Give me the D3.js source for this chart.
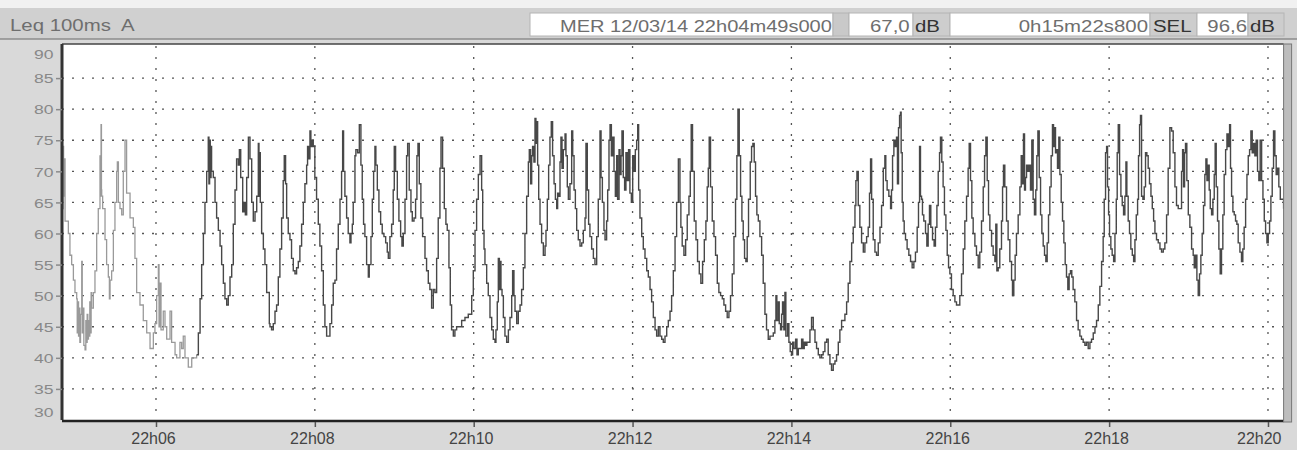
<!DOCTYPE html>
<meta charset="utf-8">

<!-- Load d3.js -->
<script src="https://d3js.org/d3.v7.min.js"></script>

<style>
    body {
        margin: 0;
        background-color: #d9d9d9;
    }

    svg {
        display: block;
    }

    text {
        font-family: "Liberation Sans", Arial, sans-serif;
        white-space: pre;
    }
</style>

<body>
<div id="my_dataviz"></div>

<script>

    // header values
    var headerLabel = "Leq 100ms  A";
    var startText = "MER 12/03/14 22h04m49s000";
    var levelText = "67,0";
    var durationText = "0h15m22s800";
    var selText = "96,6";

    // start of recording and its length in seconds
    var startTime = Date.UTC(2014, 2, 12, 22, 4, 49);
    var durationSec = 922.8;

    var yTicks = [30, 35, 40, 45, 50, 55, 60, 65, 70, 75, 80, 85, 90];
    var gridLevels = [35, 40, 45, 50, 55, 60, 65, 70, 75, 80, 85];

    // [seconds since start, dB] - first part is drawn lighter
    var lightTrace = [[0, 75], [0.4, 64], [0.8, 74], [1.2, 66], [1.6, 72], [2.3, 62], [4.8, 60], [6, 56.5], [7.3, 55], [8.6, 52.5],
        [9.8, 50.5], [11.1, 49.5], [11.5, 44], [12, 49], [12.5, 43.5], [13, 48], [13.5, 42.5], [14, 47], [14.9, 55.5], [15.3, 44],
        [16, 48], [16.5, 42], [17.4, 41.3], [18, 46], [18.5, 42.5], [19, 47], [19.5, 43], [20, 46], [20.5, 43.5], [21, 49], [21.5, 44],
        [22, 50.5], [22.4, 48], [23.7, 50.5], [24.9, 54], [26.2, 60], [27.4, 64], [28.7, 72.5], [29, 66], [29.5, 77.5], [29.8, 67],
        [30, 66], [30.7, 64], [32.5, 59], [33.7, 55], [35, 53], [35.8, 49.5], [36.3, 52.5], [37.5, 54], [38.8, 60.5], [40, 65],
        [41.3, 70], [41.8, 71.5], [42.6, 65], [43.8, 64], [45.1, 63], [46.3, 70], [47.6, 75], [48.8, 66.5], [51.4, 62.5], [53.9, 61],
        [55.1, 56], [56.4, 50.5], [58.9, 48.5], [61.4, 46], [64, 44], [66.5, 41.5], [69, 44], [70.2, 45.5], [71.5, 50], [72.8, 55],
        [73.3, 45], [74, 52], [74.8, 44.5], [76.5, 47.5], [77.8, 45], [79.1, 43], [81.6, 47.5], [82.8, 42.5], [85.4, 40.5], [86.6, 40],
        [89.1, 42.5], [90.4, 41.5], [91.6, 43.5], [92.9, 40], [95.4, 38.5], [98, 40], [100.5, 40], [101.7, 40.5]];

    // 22h06 - 22h10
    var traceA = [[101.7, 40.5], [103, 44], [104.3, 49.5], [105.5, 55], [106.8, 60], [108, 65], [109.3, 70], [110.5, 75.5], [111, 68],
        [111.5, 75], [112, 69], [112.6, 74], [113, 70], [114.3, 69], [115.6, 65], [116.8, 62.5], [118.1, 60.5], [119.4, 58], [120.6, 55],
        [121.9, 52], [123.1, 49.5], [124.4, 48.5], [125.6, 50], [126.9, 53], [128.2, 55], [129.4, 61.5], [130.7, 67], [131.9, 72],
        [133.2, 71], [134, 73.5], [135, 69], [136.5, 63.5], [137.5, 65], [138.5, 63], [139.5, 69], [140.8, 75.5], [142, 72], [143.3, 65],
        [144.5, 62], [145.8, 63.5], [147.1, 66], [148.3, 74.5], [148.8, 66], [149.3, 73], [149.8, 65], [150.8, 60], [152.1, 57.5],
        [153.3, 55], [154.6, 50.5], [156.6, 45.5], [157.1, 45], [158.3, 44.5], [159.6, 45.5], [160.9, 47.5], [162.1, 48.5], [163.4, 53],
        [164.6, 57.5], [165.9, 62.5], [167.1, 68.5], [167.9, 72.5], [168.9, 68], [169.7, 62.5], [170.9, 60], [172.2, 59], [173.4, 56],
        [174.7, 54], [176, 53.5], [177.2, 54.5], [178.5, 55.5], [179.7, 58], [181, 61.5], [182.3, 65], [183.5, 68], [184.8, 71],
        [185.5, 74], [186.5, 72], [187.3, 76.5], [188, 74], [189, 75], [189.8, 74], [191, 69], [192.3, 65.5], [193.6, 61.5], [194.8, 58],
        [196.1, 54], [197.4, 48.5], [198.6, 45], [199.9, 43.5], [201.1, 43.5], [202.4, 45.5], [203.7, 48.5], [204.9, 52], [206.2, 52.5],
        [207.4, 57.5], [208.7, 61.5], [210, 65.5], [211.2, 70], [212, 76.5], [212.7, 70], [213.7, 66], [215, 62.5], [216.2, 60],
        [217.5, 58.5], [218.3, 60], [219.3, 61.5], [220, 65], [221.3, 72.5], [222, 73.5], [223.3, 73], [224.6, 77.5], [225.8, 71],
        [226.8, 65.5], [227.8, 61.5], [228.8, 59.5], [230.1, 55], [231.4, 53], [232.1, 55], [233.4, 59.5], [234.4, 65.5], [235.4, 70],
        [236.4, 74], [237.1, 71], [238.2, 67], [239.4, 63.5], [240.7, 61.5], [241.9, 60], [243.2, 59.5], [244.5, 58.5], [245.7, 57],
        [246.5, 56], [247.7, 59.5], [249, 61.5], [250.2, 67], [251, 74], [252, 70], [253.3, 65.5], [254.5, 62], [255.8, 59.5],
        [256.8, 58], [257.8, 60], [259.1, 65.5], [260.3, 72.5], [261.1, 74.5], [262.3, 67], [263.6, 63.5], [264.6, 62], [265.9, 62.5],
        [267.1, 65.5], [268.1, 72.5], [268.9, 74.5], [269.9, 68], [271.1, 62.5], [272.4, 59.5], [274.2, 56], [275.4, 54], [276.7, 52],
        [277.9, 51], [279.2, 48], [280.5, 51], [281.7, 50.5], [283, 56], [284.2, 62.5], [285.5, 70.5], [286.3, 75.5], [287.5, 70.5],
        [288.8, 64], [290, 61.5], [291, 60.5], [292.3, 54.5], [293.3, 48.5], [294.3, 44.5], [295.6, 43.5], [296.8, 44.5], [298.1, 45],
        [301.9, 46], [304.4, 46.5], [306.9, 47]];

    // 22h10 - 22h14
    var traceB = [[308.2, 47], [309.5, 50], [310.7, 54], [312, 60.5], [313.2, 65.5], [314.5, 69.5], [315.8, 72.5], [317, 67],
        [317.8, 60.5], [318.8, 57.5], [319.5, 55], [320.8, 52], [322, 50], [323.3, 46.5], [324.6, 44.5], [325.8, 43], [327.1, 42.5],
        [327.8, 44.5], [328.8, 49], [329.6, 56], [330.4, 51], [330.9, 55.5], [331.6, 51], [332.4, 50], [333.4, 46.5], [334.6, 43.5],
        [335.9, 42.5], [337.2, 44.5], [338.4, 46.5], [339.7, 50], [340.4, 54], [341.4, 50], [342.2, 47.5], [343.5, 45.5], [344.7, 47.5],
        [346, 48.5], [347.2, 51], [348.5, 54.5], [349.7, 60], [351, 66], [352.3, 71.5], [353, 73.5], [354, 68], [354.8, 72.5],
        [355.5, 74], [356.5, 71.5], [357.3, 78.5], [358, 74.5], [358.6, 78], [359.3, 71], [360.1, 65.5], [361.1, 61.5], [362.3, 58.5],
        [363.6, 56.5], [364.9, 58], [365.6, 60.5], [366.6, 65.5], [367.6, 71], [368.6, 75.5], [369.6, 78], [370.6, 72.5], [371.7, 68],
        [372.7, 65.5], [373.7, 64], [374.4, 66.5], [375.2, 66], [376.2, 71.5], [376.9, 75.5], [377.7, 70.5], [378.7, 73.5], [380, 76],
        [380.7, 72.5], [381.7, 67.5], [382.5, 65.5], [383.7, 68], [385, 76.5], [385.8, 72.5], [386.8, 67], [387.8, 64], [388.8, 60.5],
        [390, 59], [391.3, 58], [392.6, 58.5], [393.8, 60.5], [395.1, 62.5], [395.8, 74.5], [396.8, 67], [397.8, 61.5], [398.8, 59.5],
        [400.1, 57.5], [401.4, 56], [402.6, 55], [403.9, 59.5], [405.1, 65.5], [406.4, 76.5], [407.2, 69], [408.2, 65], [409.4, 60.5],
        [410.2, 59], [411.4, 62], [412.2, 67], [413.2, 75], [414, 77.5], [415, 72.5], [416, 75.5], [417, 70], [418, 66], [419, 72.5],
        [419.7, 65.5], [420.8, 73.5], [421.5, 69.5], [422.3, 72.5], [423, 76.5], [424, 69], [425, 67], [426, 73], [427, 68.5],
        [428, 73.5], [429, 66.5], [430.1, 65], [431.1, 72.5], [432.1, 70], [433.1, 73.5], [434.1, 75], [434.9, 77.5], [435.6, 67],
        [436.6, 62.5], [437.9, 59.5], [439.1, 57.5], [440.4, 56], [441.7, 54], [442.9, 53], [444.2, 51], [445.4, 49], [446.7, 46.5],
        [448, 44.5], [449.2, 43.5], [450.5, 45], [451.7, 43.5], [453, 43], [454.2, 42.5], [455.5, 43.5], [456.8, 45], [458, 46],
        [459.3, 47.5], [460.5, 50], [461.8, 54], [463.1, 59.5], [464.3, 65], [465.6, 72], [466.8, 65], [467.5, 61], [468.5, 58],
        [469.8, 56.5], [471.1, 59], [472.3, 63], [473.6, 66], [474.6, 70], [475.3, 77.5], [476.3, 70], [477.6, 62], [478.9, 59],
        [480.1, 55.5], [481.4, 53.5], [482.6, 52], [483.9, 55.5], [485.2, 59], [486.4, 62], [487.4, 67.5], [488.2, 70.5], [488.9, 75.5],
        [489.9, 67.5], [491.2, 62], [492.5, 59.5], [493.7, 56.5], [495, 52], [496.2, 50.5], [497.5, 50], [498.8, 49.5], [500, 48.5],
        [501.3, 47.5], [502.5, 46.5], [503.8, 47.5], [505, 50], [506.3, 53.5], [507.6, 59.5], [508.8, 65.5], [509.8, 72.5], [510.6, 80],
        [511.6, 72.5], [512.6, 66], [513.6, 62], [514.6, 59], [515.6, 56], [516.6, 55.5], [517.6, 59.5], [518.6, 65.5], [519.9, 71.5],
        [520.9, 74], [521.9, 74.5], [522.9, 71.5], [523.9, 66], [524.9, 63], [526, 62], [527.2, 59.5], [528.5, 56.5], [529.7, 52],
        [531, 47], [532.2, 44.5], [533.5, 43], [534.8, 43.5], [536, 43.5], [537.3, 44], [538.5, 46], [539.3, 50], [540, 46],
        [541.1, 49], [541.8, 45.5], [542.8, 44.5], [543.6, 47], [544.3, 49], [545.3, 44.5], [546.1, 50.5], [546.8, 43.5],
        [548.1, 45.5], [549.1, 42.5], [550.1, 41], [551.1, 40.5], [551.9, 42.5], [552.9, 41.5], [554.2, 43], [555.2, 40.5],
        [556.2, 41.5], [557.4, 41.5], [558.7, 43], [559.7, 41.5], [560.7, 42.5], [561.7, 42], [562.7, 42.5], [563.7, 42.5]];

    // 22h14 - 22h17
    var traceC = [[563.7, 42.5], [565, 44.5], [566.2, 46.5], [567.5, 44.5], [568.8, 42.5], [570, 41.5], [571.3, 40.5], [572.5, 40],
        [573.8, 40.5], [575, 41], [576.3, 42.5], [577.6, 43], [578.8, 40.5], [580.1, 39], [581.3, 38], [582.6, 39], [583.9, 39.5],
        [585.1, 40.5], [586.4, 42.5], [587.6, 44.5], [588.9, 46], [590.2, 46], [591.4, 47], [592.7, 49], [593.9, 52], [595.2, 55.5],
        [596.5, 58.5], [597.7, 61], [599, 64.5], [599.7, 68.5], [600.5, 70], [601.5, 64.5], [602.7, 61], [604, 58.5], [605.3, 57],
        [606.5, 58.5], [607.8, 59.5], [609, 61], [610, 66.5], [610.8, 72], [611.6, 65.5], [612.8, 59], [614.1, 57], [615.3, 56.5],
        [616.6, 58.5], [617.9, 61], [619.1, 64.5], [620.4, 70.5], [621.6, 72.5], [622.3, 68.5], [623.3, 67], [624.6, 66], [625.9, 64],
        [626.6, 67], [627.4, 72.5], [628.4, 75], [629.4, 74], [630.4, 75.5], [631.1, 68], [631.9, 77], [632.7, 79], [633.4, 79.5],
        [633.9, 73], [634.7, 65], [635.4, 62], [636.2, 60], [637.2, 59], [638.4, 57.5], [639.7, 56.5], [641, 55.5], [642.2, 54.5],
        [643.5, 55.5], [644.7, 57], [646, 61], [647, 65], [647.8, 74], [648.5, 66], [649.3, 65.5], [650, 63], [651, 62], [652.3, 60],
        [653.3, 58], [654.3, 61.5], [655.3, 64.5], [656.3, 61], [657.6, 59], [658.8, 58], [659.8, 61], [660.9, 64.5], [661.9, 70],
        [662.9, 73], [663.6, 75.5], [664.6, 71.5], [665.6, 67.5], [666.6, 63], [667.7, 60.5], [668.7, 56.5], [669.7, 54.5],
        [670.7, 53.5], [671.9, 51], [673.2, 50], [674.5, 49], [675.7, 48.5], [677, 48.5], [678.2, 50], [679.5, 53.5], [680.8, 57.5],
        [682, 62], [683.3, 66], [684.5, 70.5], [685.3, 74.5], [686.3, 68.5], [687.3, 62.5], [688.3, 60], [689.6, 58], [690.8, 56.5],
        [692.1, 54.5], [693.3, 57], [694.6, 62], [695.9, 67.5], [696.9, 72.5], [697.9, 75.5], [698.9, 68.5], [699.9, 63], [700.9, 60.5],
        [702.2, 58], [703.4, 56.5], [704.7, 55.5], [705.4, 61.5], [706.2, 54], [707.2, 54.5], [708.4, 57.5], [709.7, 62], [710.5, 67.5],
        [711.2, 71], [712.2, 67.5], [713.5, 62], [714.7, 59], [716, 55.5], [717.3, 52.5], [718, 50], [719, 52.5], [720, 56.5]];

    // 22h17 - end
    var traceD = [[720, 56.5], [721, 60], [722.3, 63], [723.6, 67.5], [724.6, 72.5], [725.6, 68], [726.3, 76], [727.1, 67], [727.8, 69],
        [728.6, 71], [729.6, 70], [730.6, 71], [731.6, 67], [732.6, 75], [733.6, 65.5], [734.6, 63], [735.6, 67], [736.4, 72.5],
        [737.2, 76.5], [738.2, 69], [739.2, 63], [740.2, 60], [741.2, 58], [742.2, 56.5], [743.2, 55.5], [744.2, 58.5], [745.2, 63],
        [746.2, 67.5], [747.2, 72.5], [748.2, 77.5], [749, 74], [749.7, 77], [750.5, 73], [751.3, 73.5], [752, 70.5], [753, 75.5],
        [753.8, 69.5], [754.8, 65], [755.8, 62], [756.8, 58.5], [757.8, 55], [758.8, 53], [759.8, 51], [760.8, 53.5], [761.8, 54],
        [762.8, 53], [763.8, 51], [765.1, 49], [766.4, 46], [767.6, 44.5], [768.9, 43.5], [770.1, 43], [771.4, 42.5], [772.7, 42],
        [773.9, 42.5], [775.2, 41.5], [776.5, 42.5], [777.7, 43], [779, 44], [780.3, 45], [781.5, 46], [782.8, 48.5], [784, 51.5],
        [785.3, 55.5], [786.5, 59.5], [787.3, 65.5], [788.3, 73], [789.1, 74], [789.8, 67.5], [790.6, 63], [791.3, 59.5], [792.3, 57.5],
        [793.3, 56.5], [794.4, 55.5], [795.4, 60], [796.4, 65.5], [797.1, 73], [797.9, 77.5], [798.9, 69.5], [799.9, 66], [800.9, 64.5],
        [801.9, 63], [802.9, 66], [803.7, 71.5], [804.4, 66], [805.4, 62], [806.4, 60], [807.4, 57.5], [808.5, 56.5], [809.5, 55.5],
        [810.5, 59], [811.5, 63], [812.5, 65.5], [813.2, 72.5], [814, 77.5], [814.7, 79], [815.5, 66], [816.5, 65.5], [817.5, 67.5],
        [818.5, 73], [819.5, 72.5], [820.5, 70.5], [821.5, 68], [822.6, 66], [823.6, 64], [824.6, 62], [825.6, 60], [826.8, 59],
        [828.1, 58.5], [829.4, 57.5], [830.6, 57], [831.9, 57.5], [833.1, 58.5], [834.4, 63], [835.6, 70.5], [836.9, 77], [838.2, 76.5],
        [839.4, 73], [840.7, 67.5], [841.9, 64.5], [843.2, 64], [844.5, 64], [845.7, 70], [846.5, 73.5], [847.2, 67.5], [848, 73],
        [848.7, 74.5], [849.7, 68.5], [850.8, 63], [852, 61], [853.3, 57.5], [854.5, 56.5], [855.3, 54.5], [856.3, 56.5], [857.3, 52.5],
        [858.3, 50], [859.3, 53.5], [860.3, 56.5], [861.3, 60], [862.3, 64.5], [863.3, 69.5], [864.1, 72], [864.9, 68.5], [865.9, 71],
        [866.6, 67], [867.4, 64], [868.4, 63], [869.4, 65.5], [870.4, 69.5], [871.1, 74.5], [871.9, 67.5], [872.9, 62], [873.9, 57.5],
        [874.9, 53.5], [875.9, 57.5], [876.9, 63], [877.9, 69.5], [879, 73.5], [880, 76], [881, 74], [882, 77.5], [882.7, 70.5],
        [883.5, 66], [884.5, 63.5], [885.5, 63], [886.5, 62], [887.5, 61.5], [888.5, 58.5], [889.8, 57], [891, 55.5], [892, 57.5],
        [893, 61], [894.1, 65.5], [895.1, 69.5], [896.1, 72.5], [897.1, 73.5], [898.1, 76.5], [899.1, 73], [900.1, 74.5], [901.1, 72.5],
        [902.1, 75], [903.1, 70], [904.1, 68.5], [905.1, 75], [906.2, 68.5], [907.2, 65.5], [908.2, 62], [909.2, 60], [910.2, 58.5],
        [911.2, 60], [912.2, 62], [913.2, 66], [914.2, 70.5], [915.2, 76.5], [916.2, 72.5], [917.2, 69.5], [918.2, 70.5], [919.2, 67.5],
        [920.3, 65.5], [922.8, 64]];

    var darkTrace = traceA.concat(traceB, traceC, traceD);

    var width = 1297, height = 450;
    var plotLeft = 62, plotRight = 1283.6, plotTop = 44, plotBottom = 420;

    var x = d3.scaleUtc()
        .domain([new Date(startTime), new Date(startTime + durationSec * 1000)])
        .range([plotLeft, plotRight]);

    var y = d3.scaleLinear()
        .domain([30, 90])
        .range([plotBottom, plotTop + 3]);

    var svg = d3.select("#my_dataviz").append("svg")
        .attr("width", width)
        .attr("height", height);

    // page + header band
    svg.append("rect").attr("width", width).attr("height", height).attr("fill", "#d9d9d9");
    svg.append("rect").attr("width", width).attr("height", 8).attr("fill", "#f1f1f1");
    svg.append("rect").attr("y", 8).attr("width", width).attr("height", 31).attr("fill", "#d0d0d0");
    svg.append("line").attr("x1", 0).attr("x2", width).attr("y1", 39).attr("y2", 39)
        .attr("stroke", "#8c8c8c").attr("stroke-width", 1.5);

    // stretched text helper (the scan is wider than the font)
    function stretchText(str, px, py, anchor, size, color, sx) {
        svg.append("text")
            .attr("transform", "translate(" + px + "," + py + ") scale(" + sx + ",1)")
            .attr("text-anchor", anchor)
            .style("font-size", size + "px")
            .attr("fill", color)
            .text(str);
    }

    // header boxes: white value cells and gray unit cells
    var cells = [
        [530, 833, "#ffffff"], [833, 849, "#c9c9c9"], [849, 913, "#ffffff"], [913, 950, "#cdcdcd"],
        [950, 1150, "#ffffff"], [1150, 1197, "#cdcdcd"], [1197, 1248, "#ffffff"], [1248, 1284, "#cdcdcd"]
    ];
    cells.forEach(function (c) {
        svg.append("rect")
            .attr("x", c[0]).attr("y", 13).attr("width", c[1] - c[0]).attr("height", 23)
            .attr("fill", c[2]).attr("stroke", "#b4b4b4").attr("stroke-width", 1);
    });

    stretchText(headerLabel, 10, 31, "start", 17, "#6e6e6e", 1.2);
    stretchText(startText, 560, 32, "start", 17, "#6e6e6e", 1.18);
    stretchText(levelText, 870, 32, "start", 17, "#6e6e6e", 1.2);
    stretchText("dB", 915, 32, "start", 17, "#333", 1.2);
    stretchText(durationText, 1148, 32, "end", 17, "#6e6e6e", 1.2);
    stretchText("SEL", 1153, 32, "start", 17, "#333", 1.2);
    stretchText(selText, 1247, 32, "end", 17, "#6e6e6e", 1.2);
    stretchText("dB", 1250, 32, "start", 17, "#333", 1.2);

    // plot area
    svg.append("rect")
        .attr("x", plotLeft).attr("y", plotTop)
        .attr("width", plotRight - plotLeft).attr("height", plotBottom - plotTop)
        .attr("fill", "#ffffff");

    // dotted grid
    svg.append("g").selectAll("line")
        .data(gridLevels)
        .enter().append("line")
        .attr("x1", plotLeft).attr("x2", plotRight)
        .attr("y1", function (d) { return y(d); })
        .attr("y2", function (d) { return y(d); })
        .attr("stroke", "#555").attr("stroke-width", 1.3)
        .attr("stroke-dasharray", "2,8");

    var xTicks = x.ticks(d3.utcMinute.every(2));

    svg.append("g").selectAll("line")
        .data(xTicks)
        .enter().append("line")
        .attr("x1", function (d) { return x(d); })
        .attr("x2", function (d) { return x(d); })
        .attr("y1", plotTop + 2).attr("y2", plotBottom)
        .attr("stroke", "#555").attr("stroke-width", 1.3)
        .attr("stroke-dasharray", "2,9");

    // traces
    var line = d3.line()
        .x(function (d) { return x(new Date(startTime + d[0] * 1000)); })
        .y(function (d) { return y(d[1]); })
        .curve(d3.curveStepAfter);

    svg.append("path")
        .datum(lightTrace)
        .attr("d", line)
        .attr("fill", "none")
        .attr("stroke", "#9a9a9a")
        .attr("stroke-width", 1.3);

    svg.append("path")
        .datum(darkTrace)
        .attr("d", line)
        .attr("fill", "none")
        .attr("stroke", "#484848")
        .attr("stroke-width", 1.4);

    // frame
    svg.append("line").attr("x1", plotLeft).attr("x2", plotRight).attr("y1", plotTop).attr("y2", plotTop)
        .attr("stroke", "#444").attr("stroke-width", 1.5);
    svg.append("line").attr("x1", plotLeft).attr("x2", plotLeft).attr("y1", plotTop).attr("y2", plotBottom)
        .attr("stroke", "#333").attr("stroke-width", 3);
    svg.append("line").attr("x1", plotLeft).attr("x2", plotRight).attr("y1", plotBottom + 1).attr("y2", plotBottom + 1)
        .attr("stroke", "#222").attr("stroke-width", 2.5);
    svg.append("rect").attr("x", plotRight).attr("y", plotTop).attr("width", 8).attr("height", plotBottom - plotTop + 2)
        .attr("fill", "#bdbdbd").attr("stroke", "#777").attr("stroke-width", 1);

    // y axis
    var yAxis = svg.append("g")
        .attr("transform", "translate(" + plotLeft + ",0)")
        .call(d3.axisLeft(y).tickValues(yTicks).tickSize(6).tickPadding(3));

    yAxis.select(".domain").remove();
    yAxis.selectAll(".tick line").attr("stroke", "#8a8a8a").attr("stroke-width", 1.5)
        .style("display", function (d) { return (d === 30 || d === 90) ? "none" : null; });
    yAxis.selectAll(".tick text")
        .attr("fill", "#888")
        .style("font-size", "13.5px")
        .style("font-family", "'Liberation Sans', Arial, sans-serif")
        .attr("x", -6.5)
        .attr("transform", "scale(1.3,1)")
        .attr("dy", function (d) { return d === 90 ? "0.85em" : (d === 30 ? "-0.25em" : "0.35em"); });

    // x axis
    var xAxis = svg.append("g")
        .attr("transform", "translate(0," + (plotBottom + 2) + ")")
        .call(d3.axisBottom(x)
            .ticks(d3.utcMinute.every(2))
            .tickFormat(d3.utcFormat("%Hh%M"))
            .tickSize(5)
            .tickPadding(6));

    xAxis.select(".domain").remove();
    xAxis.selectAll(".tick line").attr("stroke", "#555").attr("stroke-width", 1.5);
    xAxis.selectAll(".tick text")
        .attr("fill", "#444")
        .style("font-size", "16px")
        .style("font-family", "'Liberation Sans', Arial, sans-serif")
        .attr("text-anchor", function (d, i) { return i === xTicks.length - 1 ? "end" : "middle"; })
        .attr("x", function (d, i) { return i === xTicks.length - 1 ? 13 : -3; });

</script>
</body>
